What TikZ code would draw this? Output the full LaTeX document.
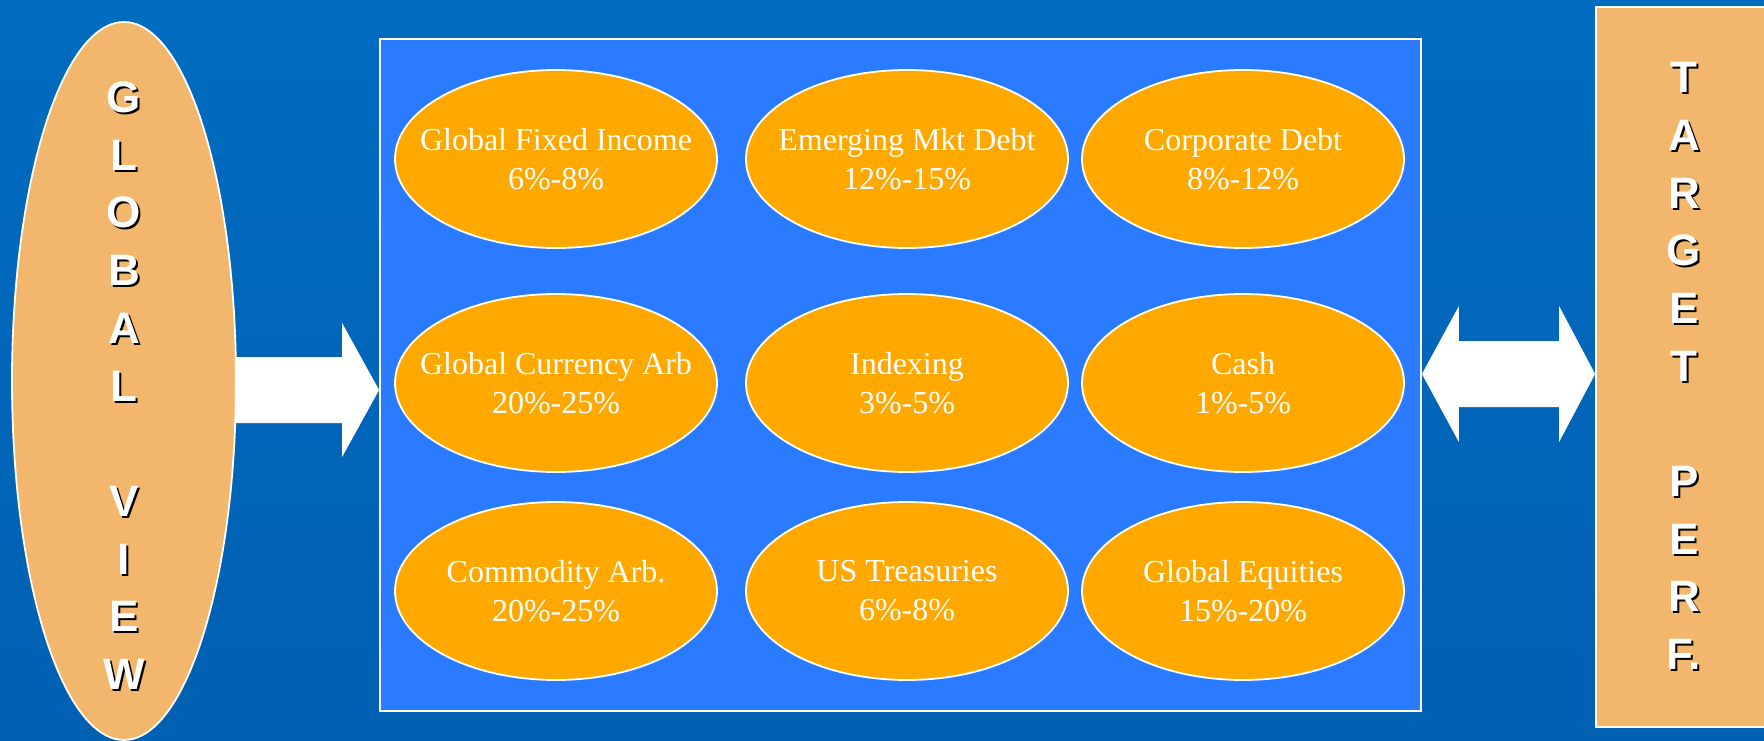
\documentclass[tikz,border=0pt]{standalone}
\usepackage{fontspec}
\setmainfont{Liberation Serif}
\newfontfamily\letterfont{Liberation Sans}
\usetikzlibrary{shapes.geometric,calc}

\definecolor{bgtop}{RGB}{0,108,192}
\definecolor{bgbottom}{RGB}{0,96,178}
\definecolor{panelblue}{RGB}{42,123,255}
\definecolor{sand}{RGB}{242,182,108}
\definecolor{amber}{RGB}{255,168,0}

% white letter with a dark drop shadow
\newcommand\shadowed[1]{\makebox[0pt][l]{\kern2pt\raisebox{-2pt}{\color{black}#1}}#1}

\tikzset{
  asset/.style={ellipse, draw=white, line width=1.8pt, fill=amber,
    minimum width=322pt, minimum height=178pt, inner sep=-40pt,
    text=white, align=center, font=\fontsize{32}{39}\selectfont},
  banner/.style={draw=white, line width=1.8pt, fill=sand, inner sep=0pt,
    text=white, align=center,
    font=\letterfont\bfseries\fontsize{44}{57.7}\selectfont},
  panelbox/.style={draw=white, line width=1.8pt, fill=panelblue, inner sep=0pt},
  blockarrow/.style={fill=white}
}

\begin{document}
\begin{tikzpicture}[x=1pt,y=-1pt]
\clip (0,0) rectangle (1764,741);
\shade[top color=bgtop, bottom color=bgbottom] (0,0) rectangle (1764,741);

% central panel holding the asset classes
\node[panelbox, minimum width=1041pt, minimum height=672pt] (panel) at (900.5,375) {};

% left input
\node[banner, ellipse, inner sep=-80pt, minimum width=224pt, minimum height=718pt] (gv) at (124,381)
  {\rule{0pt}{42pt}\shadowed{G}\\\shadowed{L}\\\shadowed{O}\\\shadowed{B}\\\shadowed{A}\\\shadowed{L}\\[57.7pt]%
   \shadowed{V}\\\shadowed{I}\\\shadowed{E}\\\shadowed{W}};

% right output
\node[banner, minimum width=176pt, minimum height=720pt] (tp) at (1684,367)
  {\shadowed{T}\\\shadowed{A}\\\shadowed{R}\\\shadowed{G}\\\shadowed{E}\\\shadowed{T}\\[57.7pt]%
   \shadowed{P}\\\shadowed{E}\\\shadowed{R}\\\shadowed{F.}};

% asset classes
\node[asset] (gfi) at (556,159) {Global Fixed Income\\6\%-8\%};
\node[asset] (emd) at (907,159) {Emerging Mkt Debt\\12\%-15\%};
\node[asset] (cd)  at (1243,159) {Corporate Debt\\8\%-12\%};
\node[asset] (gca) at (556,383) {Global Currency Arb\\20\%-25\%};
\node[asset] (idx) at (907,383) {Indexing\\3\%-5\%};
\node[asset] (csh) at (1243,383) {Cash\\1\%-5\%};
\node[asset] (cma) at (556,591) {Commodity Arb.\\20\%-25\%};
\node[asset] (ust) at (907,591) {US Treasuries\\6\%-8\%};
\node[asset] (geq) at (1243,591) {Global Equities\\15\%-20\%};

% block arrow: global view into the panel
\coordinate (inT) at (panel.west |- 0,390);
\fill[blockarrow] ($(gv.east|-inT)+(-2,-33)$) -- ($(inT)+(-37,-33)$) -- ($(inT)+(-37,-67)$)
  -- (inT) -- ($(inT)+(-37,67)$) -- ($(inT)+(-37,33)$) -- ($(gv.east|-inT)+(-2,33)$) -- cycle;

% double block arrow: panel <-> target performance
\coordinate (dl) at (panel.east |- 0,374);
\coordinate (dr) at (tp.west |- 0,374);
\fill[blockarrow] (dl) -- ($(dl)+(37,-68)$) -- ($(dl)+(37,-33)$) -- ($(dr)+(-36,-33)$)
  -- ($(dr)+(-36,-68)$) -- (dr) -- ($(dr)+(-36,68)$) -- ($(dr)+(-36,33)$)
  -- ($(dl)+(37,33)$) -- ($(dl)+(37,68)$) -- cycle;
\end{tikzpicture}
\end{document}
